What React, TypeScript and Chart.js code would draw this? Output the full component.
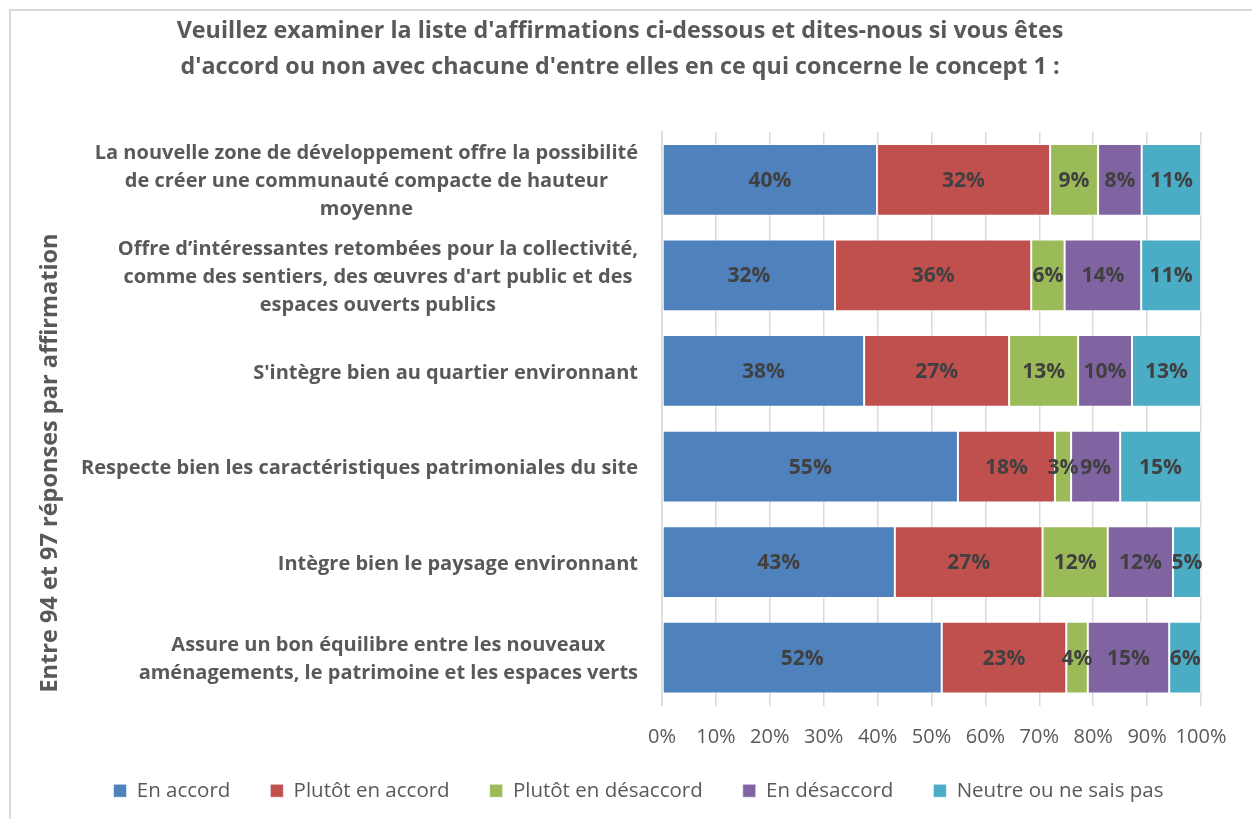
import React, { useEffect, useRef } from "react";
import { Chart, registerables } from "chart.js";

Chart.register(...registerables);

const FONT = "'Open Sans', sans-serif";

const titleLines = [
  "Veuillez examiner la liste d'affirmations ci-dessous et dites-nous si vous êtes",
  "d'accord ou non avec chacune d'entre elles en ce qui concerne le concept 1 :",
];
const yAxisTitle = "Entre 94 et 97 réponses par affirmation";

const categories: string[][] = [
  ["La nouvelle zone de développement offre la possibilité", "de créer une communauté compacte de hauteur", "moyenne"],
  ["Offre d’intéressantes retombées pour la collectivité,", "comme des sentiers, des œuvres d'art public et des", "espaces ouverts publics"],
  ["S'intègre bien au quartier environnant"],
  ["Respecte bien les caractéristiques patrimoniales du site"],
  ["Intègre bien le paysage environnant"],
  ["Assure un bon équilibre entre les nouveaux", "aménagements, le patrimoine et les espaces verts"],
];

const seriesNames = ["En accord", "Plutôt en accord", "Plutôt en désaccord", "En désaccord", "Neutre ou ne sais pas"];
const seriesColors = ["#4F81BD", "#C0504D", "#9BBB59", "#8064A2", "#4BACC6"];

const enAccord = [39.9, 32.1, 37.5, 54.9, 43.2, 51.9];
const plutotEnAccord = [32.1, 36.4, 26.9, 18.0, 27.4, 23.1];
const plutotEnDesaccord = [8.9, 6.2, 12.8, 3.0, 12.1, 4.0];
const enDesaccord = [8.1, 14.2, 10.0, 9.1, 12.1, 15.1];
const neutre = [11.0, 11.1, 12.8, 15.0, 5.2, 5.9];

const xTicks = [0, 10, 20, 30, 40, 50, 60, 70, 80, 90, 100];

const seriesValues = [enAccord, plutotEnAccord, plutotEnDesaccord, enDesaccord, neutre];

const overlayPlugin = {
  id: "overlay",
  afterLayout(chart: any) {
    // nudge the legend so it sits where the original one does
    const lg = chart.legend;
    if (lg) {
      lg.top -= 7;
      lg.bottom -= 7;
      lg.left += 38;
      lg.right += 38;
    }
  },
  afterDraw(chart: any) {
    const ctx = chart.ctx as CanvasRenderingContext2D;
    const area = chart.chartArea;
    const yScale = chart.scales.y;
    ctx.save();
    ctx.fillStyle = "#595959";
    ctx.textBaseline = "middle";

    // Title
    ctx.font = `bold 23.3px ${FONT}`;
    ctx.textAlign = "center";
    titleLines.forEach((t, i) => ctx.fillText(t, 620, 31 + i * 36));

    // Y axis title
    ctx.save();
    ctx.translate(50, 463);
    ctx.rotate(-Math.PI / 2);
    ctx.font = `bold 23.5px ${FONT}`;
    ctx.fillText(yAxisTitle, 0, 0);
    ctx.restore();

    // Category labels: block right aligned, lines centred within block
    ctx.font = `bold 20px ${FONT}`;
    const lineH = 28;
    categories.forEach((lines, i) => {
      const y = yScale.getPixelForValue(i);
      const w = Math.max(...lines.map((l) => ctx.measureText(l).width));
      const cx = area.left - 24 - w / 2;
      const y0 = y - ((lines.length - 1) * lineH) / 2 + 2;
      lines.forEach((l, j) => ctx.fillText(l, cx, y0 + j * lineH));
    });
    ctx.restore();
  },
  afterDatasetsDraw(chart: any) {
    const ctx = chart.ctx as CanvasRenderingContext2D;
    ctx.save();
    ctx.font = `bold 21px ${FONT}`;
    ctx.fillStyle = "#404040";
    ctx.textAlign = "center";
    ctx.textBaseline = "middle";
    chart.data.datasets.forEach((ds: any, di: number) => {
      const meta = chart.getDatasetMeta(di);
      meta.data.forEach((el: any, i: number) => {
        const v = ds.data[i];
        const cx = (el.x + el.base) / 2;
        ctx.fillText(Math.round(v) + "%", cx, el.y + 1);
      });
    });
    ctx.restore();
  },
};

export default function App() {
  const ref = useRef<HTMLCanvasElement>(null);

  useEffect(() => {
    if (!ref.current) return;
    const chart = new Chart(ref.current, {
      type: "bar",
      data: {
        labels: categories,
        datasets: seriesNames.map((name, i) => ({
          label: name,
          data: seriesValues[i],
          backgroundColor: seriesColors[i],
          borderColor: "rgba(255,255,255,0.55)",
          borderWidth: 1,
          borderSkipped: false,
          barPercentage: 0.75,
          categoryPercentage: 1,
        })),
      },
      options: {
        indexAxis: "y",
        responsive: false,
        animation: false,
        layout: { padding: { top: 132, right: 51, bottom: 1, left: 0 } },
        scales: {
          x: {
            stacked: true,
            min: 0,
            max: 100,
            afterBuildTicks: (scale: any) => {
              scale.ticks = xTicks.map((v) => ({ value: v }));
            },
            afterFit: (scale: any) => {
              scale.height = 42;
            },
            ticks: {
              callback: (v: any) => v + "%",
              font: { family: FONT, size: 20 },
              color: "#595959",
              padding: 20,
              maxRotation: 0,
              autoSkip: false,
            },
            grid: { color: "#d9d9d9", lineWidth: 1.5, drawTicks: false },
            border: { display: false },
          },
          y: {
            stacked: true,
            ticks: { display: false },
            grid: { display: false, drawTicks: false },
            border: { display: true, color: "#d9d9d9", width: 1.5 },
            afterFit: (scale: any) => {
              scale.width = 662;
            },
          },
        },
        plugins: {
          legend: {
            position: "bottom",
            labels: {
              boxWidth: 13,
              boxHeight: 13,
              padding: 40,
              color: "#595959",
              font: { family: FONT, size: 20.5 },
            },
          },
          title: { display: false },
          tooltip: { enabled: false },
        },
      },
      plugins: [overlayPlugin],
    } as any);
    return () => chart.destroy();
  }, []);

  return (
    <div style={{ position: "fixed", left: 0, top: 0, width: 1252, height: 819, background: "#fff", overflow: "hidden" }}>
      <div
        style={{
          position: "absolute",
          left: 9,
          top: 9,
          right: -10,
          bottom: -10,
          borderTop: "2px solid #d9d9d9",
          borderLeft: "2px solid #d9d9d9",
        }}
      />
      <canvas ref={ref} width={1252} height={819} style={{ position: "absolute", left: 0, top: 0, width: 1252, height: 819 }} />
    </div>
  );
}
